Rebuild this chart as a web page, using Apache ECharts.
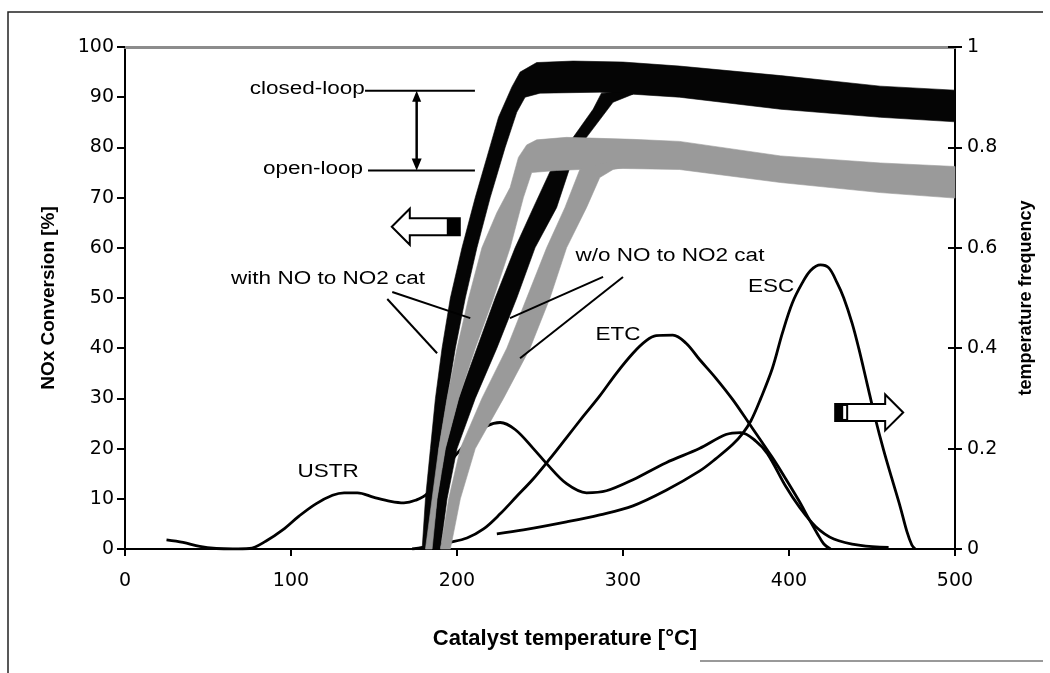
<!DOCTYPE html>
<html><head><meta charset="utf-8">
<script src="https://cdn.jsdelivr.net/npm/echarts/dist/echarts.min.js"></script>
<style>html,body{margin:0;padding:0;background:#fff}#c{width:1050px;height:673px}</style>
</head><body><div id="c"></div>
<script>
// ---------- axis ticks ----------
const xTickValues = [0, 100, 200, 300, 400, 500];
const leftTickValues = [0, 10, 20, 30, 40, 50, 60, 70, 80, 90, 100];
const rightTickValues = [0, 0.2, 0.4, 0.6, 0.8, 1];

// ---------- NOx conversion bands [temperature, conversion %] ----------
// closed-loop, with NO to NO2 cat (black)
const closedWithUpper = [[179,0],[181,10],[184,20],[187,30],[191,40],[196,50],[203,60],[211,70],[218,78],[225,86],[233,92],[238,95],[248,96.9],[270,97.2],[300,97],[334,96.2],[395,94.3],[455,92.2],[500,91.4]];
const closedWithLower = [[500,85.1],[455,86],[395,87.6],[334,90],[306,90.6],[286,91],[250,90.8],[241,90],[236,87],[229,80],[220,70],[212,60],[205,50],[199,40],[194,30],[189,20],[187,10],[186,0]];
// closed-loop, w/o NO to NO2 cat (black)
const closedWoUpper = [[185,0],[188,10],[193,20],[201,30],[212,40],[223,50],[235,60],[246,68],[260,78],[270,82],[282,87.6],[287,90.8],[300,91]];
const closedWoLower = [[306,90.6],[294,89],[278,82],[270,78],[260,68],[247,60],[236,50],[224,40],[211,30],[200,20],[194,10],[190,0]];
// open-loop, with NO to NO2 cat (grey)
const openWithUpper = [[181,0],[185,10],[189,20],[194,30],[200,40],[207,50],[215,60],[224,67],[232,72],[237,78],[242,80.5],[248,81.5],[266,82],[306,81.6],[334,81.2],[395,78.3],[455,76.9],[500,76.2]];
const openWithLower = [[500,69.9],[455,71],[395,73],[334,75.6],[300,75.8],[274,75.6],[260,75.4],[245,75],[240,70],[232,60],[222,50],[211,40],[201,30],[193,20],[188,10],[185,0]];
// open-loop, w/o NO to NO2 cat (grey)
const openWoUpper = [[190,0],[195,10],[202,20],[215,30],[230,40],[242,50],[254,60],[265,68],[274,75.6],[290,77]];
const openWoLower = [[300,76],[294,75.6],[286,74],[278,68],[266,60],[256,50],[244,40],[228,30],[211,20],[202,10],[196,0]];

// ---------- temperature frequency curves [temperature, frequency] ----------
const ustr = [[25,0.018],[35,0.013],[45,0.005],[55,0.001],[65,0],[75,0.001],[85,0.016],[95,0.038],[105,0.066],[115,0.09],[125,0.107],[132,0.112],[140,0.112],[150,0.103],[160,0.095],[168,0.092],[175,0.097],[182,0.11],[190,0.15],[200,0.19],[210,0.225],[218,0.245],[226,0.252],[235,0.238],[246,0.2],[254,0.17],[266,0.13],[278,0.112],[290,0.116],[306,0.138],[326,0.172],[346,0.2],[362,0.228],[371,0.232],[380,0.215],[387,0.19],[398,0.125],[406,0.085],[416,0.045],[427,0.02],[443,0.007],[460,0.003]];
const etc = [[173,0],[185,0.006],[195,0.013],[206,0.022],[216,0.04],[226,0.07],[236,0.105],[246,0.14],[256,0.18],[266,0.222],[276,0.264],[286,0.305],[296,0.35],[306,0.39],[314,0.415],[320,0.425],[330,0.426],[338,0.41],[346,0.378],[356,0.34],[366,0.298],[376,0.25],[390,0.182],[398,0.14],[406,0.096],[412,0.06],[417,0.031],[421,0.01],[425,0]];
const esc = [[224,0.03],[240,0.038],[266,0.054],[286,0.068],[306,0.086],[326,0.117],[346,0.155],[356,0.18],[366,0.208],[372,0.23],[377,0.255],[383,0.3],[390,0.36],[396,0.43],[402,0.49],[408,0.53],[413,0.555],[419,0.566],[424,0.56],[429,0.53],[433,0.5],[438,0.45],[442,0.4],[447,0.33],[452,0.26],[457,0.197],[462,0.14],[467,0.084],[471,0.035],[474,0.008],[476,0]];

// ---------- annotations (data coordinates of the left axis) ----------
const textNotes = [
  {text:'closed-loop', at:[144.5, 91.6], align:'right'},
  {text:'open-loop', at:[143.4, 75.6], align:'right'},
  {text:'with NO to NO2 cat', at:[122.3, 53.8], align:'center'},
  {text:'w/o NO to NO2 cat', at:[328.3, 58.4], align:'center'},
  {text:'USTR', at:[122.3, 15.3], align:'center'},
  {text:'ETC', at:[297, 42.6], align:'center'},
  {text:'ESC', at:[389.2, 52.2], align:'center'}
];
const noteLines = [
  [[144.6, 91.3], [210.8, 91.3]],
  [[146.4, 75.4], [210.8, 75.4]],
  [[161, 51.2], [208, 46.0]],
  [[158, 49.8], [188, 39.0]],
  [[288, 54.2], [231.9, 46.0]],
  [[300, 54.2], [238, 38.0]]
];
const doubleArrow = [[175.7, 91.3], [175.7, 75.4]];
const leftArrowAt = [181.2, 64.2];
const rightArrowAt = [448.3, 27.2];

const FONT = 'Liberation Sans, Arial, sans-serif';
const TICKFONT = 'DejaVu Sans, sans-serif';

function band(name, upper, lower, color, z) {
  const pts = upper.concat(lower);
  return {
    type: 'custom', name: name, xAxisIndex: 0, yAxisIndex: 0, z: z, silent: true,
    data: [[0, 0]],
    renderItem: function (params, api) {
      return { type: 'polygon', shape: { points: pts.map(p => api.coord(p)) },
               style: { fill: color, stroke: color, lineWidth: 0.6 } };
    }
  };
}
function freq(name, data) {
  return { type: 'line', name: name, xAxisIndex: 0, yAxisIndex: 1, data: data, smooth: 0.35,
           showSymbol: false, silent: true, z: 5,
           lineStyle: { color: '#000', width: 2.8 } };
}
function hollowArrow(c, dir) {
  const L = 34, head = 18, hh = 18, sh = 8.5;
  const tipX = c[0] + dir * L, baseX = tipX - dir * head, tailX = c[0] - dir * L;
  const pts = [[tipX, c[1]], [baseX, c[1] - hh], [baseX, c[1] - sh], [tailX, c[1] - sh],
               [tailX, c[1] + sh], [baseX, c[1] + sh], [baseX, c[1] + hh]];
  const blk = dir < 0 ? [tailX - 13, tailX] : [tailX, tailX + 13];
  const els = [
    { type: 'polygon', shape: { points: pts }, style: { fill: '#fff', stroke: '#000', lineWidth: 2 } },
    { type: 'rect', shape: { x: blk[0], y: c[1] - sh, width: 13, height: 2 * sh }, style: { fill: '#000' } }
  ];
  if (dir > 0) {
    els.push({ type: 'rect', shape: { x: tailX + 8, y: c[1] - sh + 2, width: 3, height: 2 * sh - 4 }, style: { fill: '#fff' } });
  }
  return els;
}

const annotationSeries = {
  type: 'custom', name: 'annotations', xAxisIndex: 0, yAxisIndex: 0, z: 10, silent: true, clip: false,
  data: [[0, 0]],
  renderItem: function (params, api) {
    const ch = [];
    noteLines.forEach(l => {
      const a = api.coord(l[0]), b = api.coord(l[1]);
      ch.push({ type: 'line', shape: { x1: a[0], y1: a[1], x2: b[0], y2: b[1] }, style: { stroke: '#000', lineWidth: 2 } });
    });
    const t = api.coord(doubleArrow[0]), b = api.coord(doubleArrow[1]);
    ch.push({ type: 'line', shape: { x1: t[0], y1: t[1] + 8, x2: b[0], y2: b[1] - 8 }, style: { stroke: '#000', lineWidth: 2.5 } });
    ch.push({ type: 'polygon', shape: { points: [[t[0], t[1]], [t[0] - 4.5, t[1] + 11], [t[0] + 4.5, t[1] + 11]] }, style: { fill: '#000' } });
    ch.push({ type: 'polygon', shape: { points: [[b[0], b[1]], [b[0] - 5, b[1] - 12], [b[0] + 5, b[1] - 12]] }, style: { fill: '#000' } });
    hollowArrow(api.coord(leftArrowAt), -1).forEach(e => ch.push(e));
    hollowArrow(api.coord(rightArrowAt), 1).forEach(e => ch.push(e));
    textNotes.forEach(n => {
      const p = api.coord(n.at);
      ch.push({ type: 'text', x: p[0], y: p[1], scaleX: 1.25,
                style: { text: n.text, fontSize: 18, fontFamily: FONT, fill: '#000', align: n.align, verticalAlign: 'middle' } });
    });
    return { type: 'group', children: ch };
  }
};

const chart = echarts.init(document.getElementById('c'), null, { renderer: 'canvas' });
chart.setOption({
  backgroundColor: '#fff',
  animation: false,
  grid: { left: 125, right: 95, top: 47, bottom: 124, containLabel: false },
  xAxis: [{
    type: 'value', min: xTickValues[0], max: xTickValues[xTickValues.length - 1], interval: 100,
    name: 'Catalyst temperature [°C]', nameLocation: 'middle', nameGap: 79,
    nameTextStyle: { fontFamily: FONT, fontWeight: 'bold', fontSize: 22, color: '#000', padding: [0, 0, 0, 50] },
    axisLine: { show: true, onZero: false, lineStyle: { color: '#000', width: 2 } },
    axisTick: { show: true, inside: false, length: 7, lineStyle: { color: '#000', width: 2 } },
    axisLabel: { fontFamily: TICKFONT, fontSize: 19, color: '#000', margin: 23 },
    splitLine: { show: false }
  }, {
    type: 'value', position: 'top', min: 0, max: 500,
    axisLine: { show: true, onZero: false, lineStyle: { color: '#8c8c8c', width: 3 } },
    axisTick: { show: false }, axisLabel: { show: false }, splitLine: { show: false }
  }],
  yAxis: [{
    type: 'value', position: 'left', min: leftTickValues[0], max: leftTickValues[leftTickValues.length - 1], interval: 10,
    name: 'NOx Conversion [%]', nameLocation: 'middle', nameGap: 67, nameRotate: 90,
    nameTextStyle: { fontFamily: FONT, fontWeight: 'bold', fontSize: 19, color: '#000' },
    axisLine: { show: true, onZero: false, lineStyle: { color: '#000', width: 2 } },
    axisTick: { show: true, inside: false, length: 8, lineStyle: { color: '#000', width: 2 } },
    axisLabel: { fontFamily: TICKFONT, fontSize: 19, color: '#000', margin: 11 },
    splitLine: { show: false }
  }, {
    type: 'value', position: 'right', min: rightTickValues[0], max: rightTickValues[rightTickValues.length - 1], interval: 0.2,
    name: 'temperature frequency', nameLocation: 'middle', nameGap: 62, nameRotate: 90,
    nameTextStyle: { fontFamily: FONT, fontWeight: 'bold', fontSize: 18, color: '#000' },
    axisLine: { show: true, onZero: false, lineStyle: { color: '#000', width: 2 } },
    axisTick: { show: true, inside: false, length: 7, lineStyle: { color: '#000', width: 2 } },
    axisLabel: { fontFamily: TICKFONT, fontSize: 19, color: '#000', margin: 12 },
    splitLine: { show: false }
  }, {
    type: 'value', position: 'right', min: 0, max: 1, interval: 0.2,
    axisLine: { show: false, onZero: false }, axisLabel: { show: false }, splitLine: { show: false },
    axisTick: { show: true, inside: true, length: 7, lineStyle: { color: '#000', width: 2 } }
  }],
  graphic: [
    { type: 'polyline', shape: { points: [[8, 673], [8, 12], [1043, 12]] }, style: { stroke: '#222', lineWidth: 1.5, fill: null } },
    { type: 'line', shape: { x1: 700, y1: 661, x2: 1043, y2: 661 }, style: { stroke: '#777', lineWidth: 1.5 } }
  ],
  series: [
    freq('USTR', ustr), freq('ETC', etc), freq('ESC', esc),
    band('closed-loop with NO to NO2 cat', closedWithUpper, closedWithLower, '#050505', 6),
    band('closed-loop w/o NO to NO2 cat', closedWoUpper, closedWoLower, '#050505', 6),
    band('open-loop with NO to NO2 cat', openWithUpper, openWithLower, '#9a9a9a', 7),
    band('open-loop w/o NO to NO2 cat', openWoUpper, openWoLower, '#9a9a9a', 7),
    annotationSeries
  ]
});
</script></body></html>
